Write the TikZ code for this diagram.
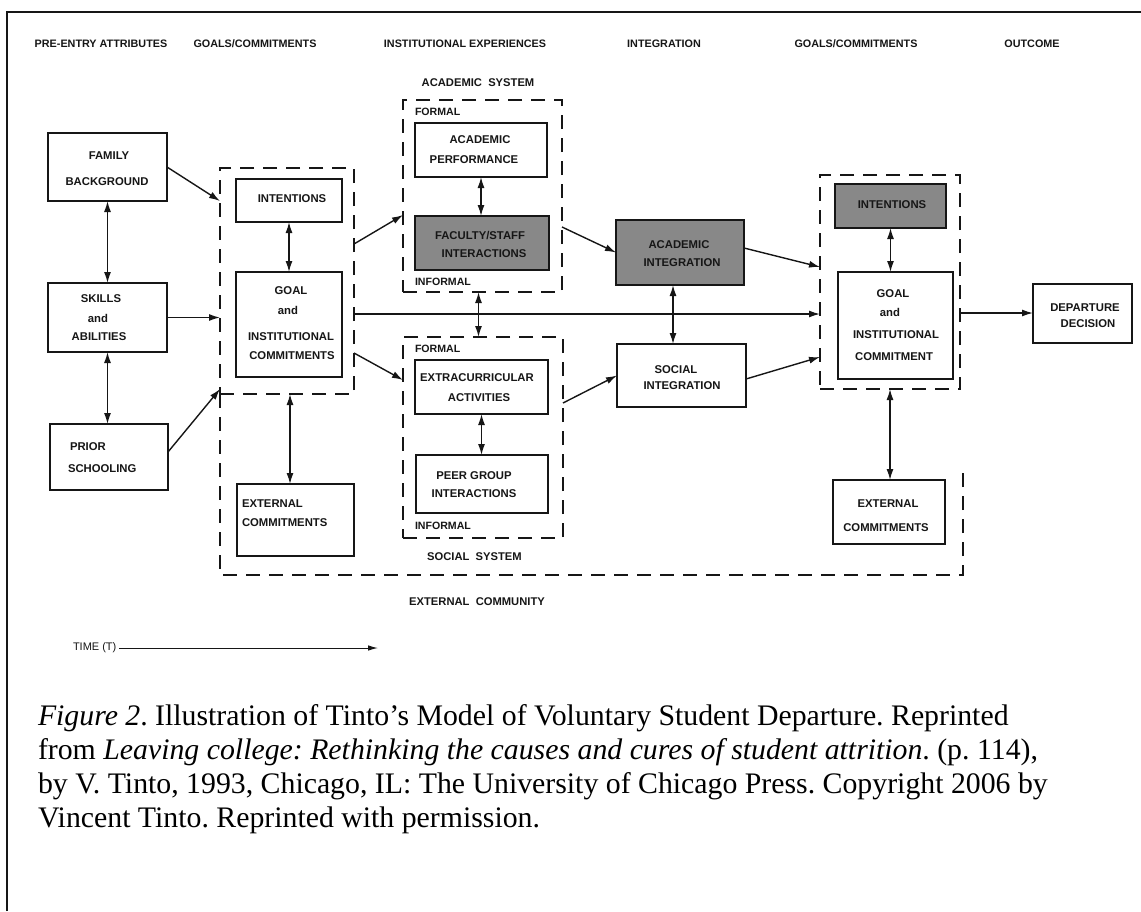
\documentclass[tikz,border=0pt]{standalone}
\usepackage{fontspec}
\setmainfont{Liberation Serif}
\setsansfont{Liberation Sans}
\usetikzlibrary{arrows.meta,calc}

\definecolor{ink}{RGB}{22,22,22}
\definecolor{boxgray}{RGB}{136,136,136}

\begin{document}
\frenchspacing
\begin{tikzpicture}[x=1pt,y=-1pt,
  every node/.style={inner sep=0pt, outer sep=0pt},
  box/.style={draw=ink, line width=1.8pt, fill=white},
  graybox/.style={draw=ink, line width=1.8pt, fill=boxgray},
  dbox/.style={draw=ink, line width=2pt, dash pattern=on 14pt off 9pt},
  dline/.style={draw=ink, line width=2pt, dash pattern=on 14pt off 9pt},
  head/.style={font=\sffamily\bfseries\fontsize{10.8}{12}\selectfont, text=ink},
  syslabel/.style={font=\sffamily\bfseries\fontsize{11.2}{12}\selectfont, text=ink},
  txt/.style={font=\sffamily\bfseries\fontsize{11.3}{13}\selectfont, text=ink, text height=8.2pt, text depth=0pt},
  lbl/.style={font=\sffamily\bfseries\fontsize{10.6}{12}\selectfont, text=ink, anchor=west, text height=8pt, text depth=0pt},
  arr/.style={draw=ink, line width=1.4pt, -{Latex[length=11pt,width=7pt]}},
  darr/.style={draw=ink, line width=1.4pt, {Latex[length=11pt,width=7pt]}-{Latex[length=11pt,width=7pt]}},
  captionline/.style={font=\fontsize{29.8}{34}\selectfont, anchor=base west}
]
\useasboundingbox (0,0) rectangle (1141,911);

% page frame (top and left rules)
\draw[line width=2.2pt, ink] (7,911) -- (7,12) -- (1141,12);

% column headings
\node[head] (hPre)  at (101,44) {PRE-ENTRY ATTRIBUTES};
\node[head] (hGoal) at (255,44) {GOALS/COMMITMENTS};
\node[head] (hInst) at (465,44) {INSTITUTIONAL EXPERIENCES};
\node[head] (hInt)  at (664,44) {INTEGRATION};
\node[head] (hGoal2) at (856,44) {GOALS/COMMITMENTS};
\node[head] (hOut)  at (1032,44) {OUTCOME};

% dashed system boundaries
\node[dbox, minimum width=134pt, minimum height=226pt] (glD) at (287,281) {};
\node[dbox, minimum width=159pt, minimum height=192pt] (acD) at (482.5,196) {};
\node[dbox, minimum width=160pt, minimum height=201pt] (soD) at (483,437.5) {};
\node[dbox, minimum width=140pt, minimum height=214pt] (grD) at (890,282) {};
% external community boundary
\draw[dline] (glD.south west) -- (220,575) -- (963,575) -- (963,470);

% pre-entry attributes
\node[box, minimum width=119pt, minimum height=68pt] (fam) at (107.5,167) {};
\node[box, minimum width=119pt, minimum height=69pt] (skl) at (107.5,317.5) {};
\node[box, minimum width=118pt, minimum height=66pt] (pri) at (109,457) {};
\node[txt] (famA) at (109,155) {FAMILY};
\node[txt] (famB) at (107,181) {BACKGROUND};
\node[txt] (sklA) at (101,298) {SKILLS};
\node[txt] (sklB) at (98,318) {and};
\node[txt] (sklC) at (99,336) {ABILITIES};
\node[txt, anchor=west] (priA) at (70,446) {PRIOR};
\node[txt, anchor=west] (priB) at (68,468) {SCHOOLING};

% goals / commitments (entry)
\node[box, minimum width=106pt, minimum height=43pt] (intL) at (289,200.5) {};
\node[box, minimum width=106pt, minimum height=105pt] (goalL) at (289,324.5) {};
\node[box, minimum width=117pt, minimum height=72pt] (extL) at (295.5,520) {};
\node[txt] (intLt) at (292,198) {INTENTIONS};
\node[txt] (goalLa) at (291,290) {GOAL};
\node[txt] (goalLb) at (288,310) {and};
\node[txt] (goalLc) at (291,336) {INSTITUTIONAL};
\node[txt] (goalLd) at (292,355) {COMMITMENTS};
\node[txt, anchor=west] (extLa) at (242,503) {EXTERNAL};
\node[txt, anchor=west] (extLb) at (242,522) {COMMITMENTS};

% academic system
\node[syslabel] (acSys) at (478,83) {ACADEMIC\ \ SYSTEM};
\node[lbl] (acF) at (415,111) {FORMAL};
\node[lbl] (acI) at (415,281) {INFORMAL};
\node[box, minimum width=132pt, minimum height=54pt] (acp) at (481,150) {};
\node[graybox, minimum width=134pt, minimum height=54pt] (fac) at (482,243) {};
\node[txt] (acpA) at (480,139) {ACADEMIC};
\node[txt] (acpB) at (474,159) {PERFORMANCE};
\node[txt] (facA) at (480,235) {FACULTY/STAFF};
\node[txt] (facB) at (484,253) {INTERACTIONS};

% social system
\node[lbl] (soF) at (415,348) {FORMAL};
\node[lbl] (soI) at (415,525) {INFORMAL};
\node[syslabel] (soSys) at (474.5,557) {SOCIAL\ \ SYSTEM};
\node[syslabel] (extCom) at (477,602) {EXTERNAL\ \ COMMUNITY};
\node[box, minimum width=133pt, minimum height=54pt] (ext) at (481.5,387) {};
\node[box, minimum width=132pt, minimum height=58pt] (peer) at (482,484) {};
\node[txt] (extA) at (477,377) {EXTRACURRICULAR};
\node[txt] (extB) at (479,397) {ACTIVITIES};
\node[txt] (peerA) at (474,475) {PEER GROUP};
\node[txt] (peerB) at (474,493) {INTERACTIONS};

% integration
\node[graybox, minimum width=128pt, minimum height=65pt] (aint) at (680,252.5) {};
\node[box, minimum width=129pt, minimum height=63pt] (sint) at (681.5,375.5) {};
\node[txt] (aintA) at (679,244) {ACADEMIC};
\node[txt] (aintB) at (682,262) {INTEGRATION};
\node[txt] (sintA) at (676,369) {SOCIAL};
\node[txt] (sintB) at (682,385) {INTEGRATION};

% goals / commitments (later)
\node[graybox, minimum width=111pt, minimum height=44pt] (intR) at (890.5,206) {};
\node[box, minimum width=115pt, minimum height=107pt] (goalR) at (895.5,325.5) {};
\node[box, minimum width=112pt, minimum height=64pt] (extR) at (889,512) {};
\node[txt] (intRt) at (892,204) {INTENTIONS};
\node[txt] (goalRa) at (893,293) {GOAL};
\node[txt] (goalRb) at (890,312) {and};
\node[txt] (goalRc) at (896,334) {INSTITUTIONAL};
\node[txt] (goalRd) at (894,356) {COMMITMENT};
\node[txt] (extRa) at (888,503) {EXTERNAL};
\node[txt] (extRb) at (886,527) {COMMITMENTS};

% outcome
\node[box, minimum width=99pt, minimum height=59pt] (dep) at (1082.5,313.5) {};
\node[txt] (depA) at (1085,307) {DEPARTURE};
\node[txt] (depB) at (1088,323) {DECISION};

% connectors: pre-entry attributes
\draw[darr] (fam.south) -- (skl.north);
\draw[darr] (skl.south) -- (skl.south |- pri.north);
\draw[arr] (fam.east) -- ([yshift=-33pt]glD.north west);
\draw[arr] (skl.east) -- (skl.east -| glD.west);
\draw[arr] ([yshift=5pt]pri.east) -- ([yshift=5pt]glD.south west);

% connectors: entry goals
\draw[darr] (intL.south) -- (goalL.north);
\draw[darr] ([xshift=3pt]glD.south) -- ([xshift=3pt]glD.south |- extL.north);
\draw[arr] ([yshift=-76pt]glD.north east) -- ([yshift=-115pt]acD.north west);
\draw[arr] ([yshift=41pt]glD.south east) -- ([yshift=-43pt]soD.north west);
\draw[arr] ([yshift=-33pt]glD.east) -- ([yshift=-33pt]glD.east -| grD.west);

% connectors: institutional experiences
\draw[darr] (acp.south) -- (acp.south |- fac.north);
\draw[darr] (ext.south) -- (ext.south |- peer.north);
\draw[darr] ([xshift=-4pt]acD.south) -- ([xshift=-4pt]acD.south |- soD.north);
\draw[arr] ([yshift=-31pt]acD.east) -- (aint.west);
\draw[arr] ([yshift=34.5pt]soD.east) -- (sint.west);

% connectors: integration
\draw[darr] ([xshift=-7pt]aint.south) -- ([xshift=-7pt]aint.south |- sint.north);
\draw[arr] ([yshift=4.5pt]aint.east) -- ([yshift=15pt]grD.west);
\draw[arr] ([yshift=-3.5pt]sint.east) -- ([yshift=-75pt]grD.west);

% connectors: later goals and outcome
\draw[darr] (intR.south) -- (intR.south |- goalR.north);
\draw[darr] (grD.south) -- (grD.south |- extR.north);
\draw[arr] ([yshift=-31pt]grD.east) -- ([yshift=-31pt]grD.east -| dep.west);

% time axis
\node[font=\sffamily\fontsize{11}{12}\selectfont, text=ink, anchor=west] (time) at (73,648) {TIME (T)};
\coordinate (timeEnd) at (378,648);
\draw[draw=ink, line width=1pt, -{Latex[length=10pt,width=5.5pt]}] ([xshift=3pt]time.east) -- (timeEnd);

% caption
\node[captionline] (cap1) at (38,725) {\textit{Figure 2}. Illustration of Tinto’s Model of Voluntary Student Departure. Reprinted};
\node[captionline] (cap2) at (38,759) {from \textit{Leaving college: Rethinking the causes and cures of student attrition}. (p. 114),};
\node[captionline] (cap3) at (38,793) {by V. Tinto, 1993, Chicago, IL: The University of Chicago Press. Copyright 2006 by};
\node[captionline] (cap4) at (38,827) {Vincent Tinto. Reprinted with permission.};
\end{tikzpicture}
\end{document}
